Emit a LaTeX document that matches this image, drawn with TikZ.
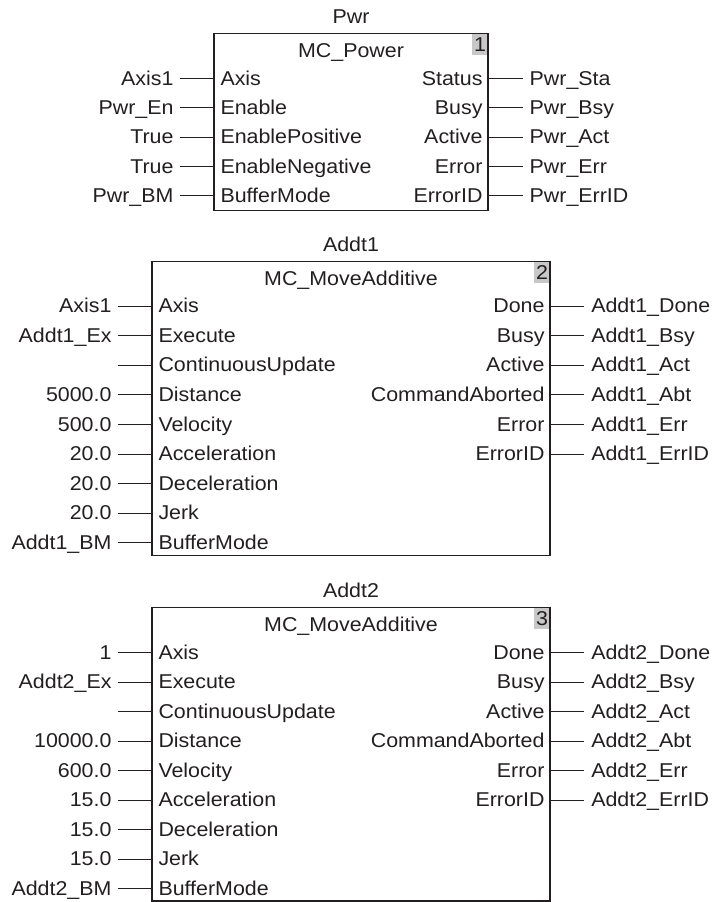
\documentclass[tikz,border=0pt]{standalone}
\usepackage{fontspec}
\setmainfont{Liberation Sans}[FakeStretch=1.07]
\definecolor{ink}{HTML}{231F20}
\definecolor{badge}{HTML}{C8C8C8}
\begin{document}
\begin{tikzpicture}[x=1bp,y=-1bp,color=ink,line width=1bp,
  font=\fontsize{20bp}{24bp}\selectfont,
  lab/.style={inner ysep=0pt,text height=14bp,text depth=0.5bp,outer sep=0pt},
  outl/.style={lab,anchor=east,inner xsep=6.5bp},
  inl/.style={lab,anchor=west,inner xsep=6.5bp},
  inr/.style={lab,anchor=east,inner xsep=5.5bp},
  outr/.style={lab,anchor=west,inner xsep=7bp},
  fbox/.style={draw,line width=1.3bp,anchor=north west,inner sep=0pt,outer sep=0pt},
  badgebox/.style={lab,fill=badge,anchor=north east,minimum width=16bp,minimum height=21.5bp,inner xsep=1bp,outer sep=0pt}]
\useasboundingbox (0,0) rectangle (716,902);

% ---------- Block 1 ----------
\node[badgebox] (n1) at (488,33.7) {\hfill1};
\node[fbox,minimum width=274bp,minimum height=176.6bp] (b1) at (214,33.7) {};
\node[lab] (t1) at (351,17) {Pwr};
\node[lab] (f1) at (351,50.3) {MC\_Power};
\foreach \i/\a/\b in {1/Axis1/Axis,2/Pwr\_En/Enable,3/True/EnablePositive,4/True/EnableNegative,5/Pwr\_BM/BufferMode}{
  \pgfmathsetmacro\yy{78.3+(\i-1)*29.4}
  \node[outl] (b1l\i) at (180,\yy) {\a};
  \coordinate (b1e\i) at (214,\yy);
  \node[inl] (b1p\i) at (214,\yy) {\b};
  \draw (b1l\i.east) -- (b1e\i);
}
\foreach \i/\a/\b in {1/Status/Pwr\_Sta,2/Busy/Pwr\_Bsy,3/Active/Pwr\_Act,4/Error/Pwr\_Err,5/ErrorID/Pwr\_ErrID}{
  \pgfmathsetmacro\yy{78.3+(\i-1)*29.4}
  \node[inr] (b1q\i) at (488,\yy) {\a};
  \coordinate (b1f\i) at (488,\yy);
  \node[outr] (b1r\i) at (522.7,\yy) {\b};
  \draw (b1f\i) -- (b1r\i.west);
}

% ---------- Block 2 ----------
\node[badgebox] (n2) at (550,261.7) {\hfill2};
\node[fbox,minimum width=398bp,minimum height=294bp] (b2) at (152,261.7) {};
\node[lab] (t2) at (351,245) {Addt1};
\node[lab] (f2) at (351,278.3) {MC\_MoveAdditive};
\foreach \i/\a/\b in {1/Axis1/Axis,2/Addt1\_Ex/Execute,4/5000.0/Distance,5/500.0/Velocity,6/20.0/Acceleration,7/20.0/Deceleration,8/20.0/Jerk,9/Addt1\_BM/BufferMode}{
  \pgfmathsetmacro\yy{306+(\i-1)*29.6}
  \node[outl] (b2l\i) at (118,\yy) {\a};
  \coordinate (b2e\i) at (152,\yy);
  \node[inl] (b2p\i) at (152,\yy) {\b};
  \draw (b2l\i.east) -- (b2e\i);
}
\coordinate (b2l3) at (118,365.2);
\coordinate (b2e3) at (152,365.2);
\node[inl] (b2p3) at (152,365.2) {ContinuousUpdate};
\draw (b2l3) -- (b2e3);
\foreach \i/\a/\b in {1/Done/Addt1\_Done,2/Busy/Addt1\_Bsy,3/Active/Addt1\_Act,4/CommandAborted/Addt1\_Abt,5/Error/Addt1\_Err,6/ErrorID/Addt1\_ErrID}{
  \pgfmathsetmacro\yy{306+(\i-1)*29.6}
  \node[inr] (b2q\i) at (550,\yy) {\a};
  \coordinate (b2f\i) at (550,\yy);
  \node[outr] (b2r\i) at (584.3,\yy) {\b};
  \draw (b2f\i) -- (b2r\i.west);
}

% ---------- Block 3 ----------
\node[badgebox] (n3) at (550,607.7) {\hfill3};
\node[fbox,minimum width=398bp,minimum height=293.3bp] (b3) at (152,607.7) {};
\node[lab] (t3) at (351,591) {Addt2};
\node[lab] (f3) at (351,624.3) {MC\_MoveAdditive};
\foreach \i/\a/\b in {1/1/Axis,2/Addt2\_Ex/Execute,4/10000.0/Distance,5/600.0/Velocity,6/15.0/Acceleration,7/15.0/Deceleration,8/15.0/Jerk,9/Addt2\_BM/BufferMode}{
  \pgfmathsetmacro\yy{652.7+(\i-1)*29.5}
  \node[outl] (b3l\i) at (118,\yy) {\a};
  \coordinate (b3e\i) at (152,\yy);
  \node[inl] (b3p\i) at (152,\yy) {\b};
  \draw (b3l\i.east) -- (b3e\i);
}
\coordinate (b3l3) at (118,711.7);
\coordinate (b3e3) at (152,711.7);
\node[inl] (b3p3) at (152,711.7) {ContinuousUpdate};
\draw (b3l3) -- (b3e3);
\foreach \i/\a/\b in {1/Done/Addt2\_Done,2/Busy/Addt2\_Bsy,3/Active/Addt2\_Act,4/CommandAborted/Addt2\_Abt,5/Error/Addt2\_Err,6/ErrorID/Addt2\_ErrID}{
  \pgfmathsetmacro\yy{652.7+(\i-1)*29.5}
  \node[inr] (b3q\i) at (550,\yy) {\a};
  \coordinate (b3f\i) at (550,\yy);
  \node[outr] (b3r\i) at (584.3,\yy) {\b};
  \draw (b3f\i) -- (b3r\i.west);
}
\end{tikzpicture}
\end{document}
